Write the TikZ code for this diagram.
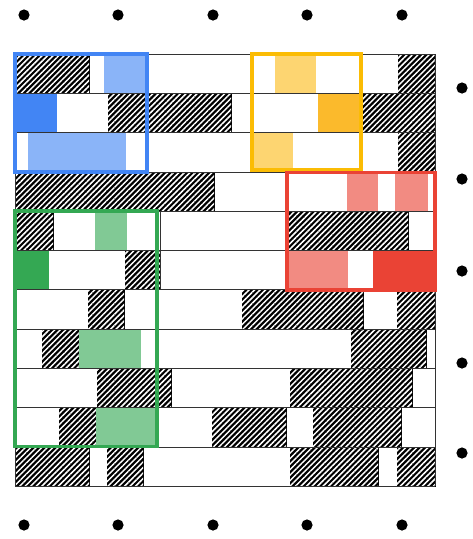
\documentclass[tikz,border=0pt]{standalone}
\usetikzlibrary{patterns.meta}
\definecolor{gblue}{HTML}{4285F4}
\definecolor{lblue}{HTML}{8AB4F8}
\definecolor{gyellow}{HTML}{FBBC04}
\definecolor{lyellow}{HTML}{FDD571}
\definecolor{dyellow}{HTML}{FBBA2C}
\definecolor{gred}{HTML}{EA4335}
\definecolor{lred}{HTML}{F28B82}
\definecolor{ggreen}{HTML}{34A853}
\definecolor{lgreen}{HTML}{81C995}
\definecolor{gridline}{HTML}{333333}
\newcommand{\blk}[4]{\path[#4] (#1,{54+39.3*#3}) rectangle (#2,{54+39.3*(#3+1)});}
\newcommand{\vsep}[2]{\draw[gridline,line width=0.7pt] (#1,{54+39.3*#2}) -- (#1,{54+39.3*(#2+1)});}
\begin{document}
\begin{tikzpicture}[x=1pt,y=-1pt,
  hatch/.style={fill=black, draw=black, line width=0.7pt,
    postaction={pattern={Lines[angle=45,distance=3.9pt,line width=1.5pt]}, pattern color=white}},
  dotmark/.style={fill=black},
  hl/.style={line width=3.2pt}]
\useasboundingbox (0,0) rectangle (473,539);
\fill[white] (0,0) rectangle (473,539);
% dots
\foreach \x in {24,118,213,307,402} {
  \fill[dotmark] (\x,15) circle (5.6);
  \fill[dotmark] (\x,525) circle (5.6);
}
\foreach \y in {88,179,271,363,453} {
  \fill[dotmark] (462,\y) circle (5.6);
}
% background rows
\fill[white] (15,54) rectangle (435,486.3);
% row 0
\blk{15}{89}{0}{hatch}
\blk{104}{147}{0}{fill=lblue}
\blk{275}{316}{0}{fill=lyellow}
\blk{398}{435}{0}{hatch}
% row 1
\blk{15}{57}{1}{fill=gblue}
\blk{108}{231}{1}{hatch}
\blk{318}{361}{1}{fill=dyellow}
\blk{361}{435}{1}{hatch}
% row 2
\blk{28}{126}{2}{fill=lblue}
\blk{252}{293}{2}{fill=lyellow}
\blk{398}{435}{2}{hatch}
% row 3
\blk{15}{92}{3}{hatch}
\blk{92}{214}{3}{hatch}
\blk{347}{378}{3}{fill=lred}
\blk{395}{428}{3}{fill=lred}
% row 4
\blk{15}{53}{4}{hatch}
\blk{95}{127}{4}{fill=lgreen}
\blk{288}{408}{4}{hatch}
% row 5
\blk{15}{49}{5}{fill=ggreen}
\blk{125}{160}{5}{hatch}
\blk{287}{348}{5}{fill=lred}
\blk{373}{435}{5}{fill=gred}
% row 6
\blk{88}{124}{6}{hatch}
\blk{242}{363}{6}{hatch}
\blk{397}{435}{6}{hatch}
% row 7
\blk{42}{79}{7}{hatch}
\blk{79}{141}{7}{fill=lgreen}
\blk{351}{426}{7}{hatch}
% row 8
\blk{97}{171}{8}{hatch}
\blk{290}{412}{8}{hatch}
% row 9
\blk{59}{96}{9}{hatch}
\blk{96}{157}{9}{fill=lgreen}
\blk{212}{286}{9}{hatch}
\blk{313}{401}{9}{hatch}
% row 10
\blk{15}{89}{10}{hatch}
\blk{107}{143}{10}{hatch}
\blk{290}{378}{10}{hatch}
\blk{397}{435}{10}{hatch}
% grid lines
\foreach \r in {0,...,11} {
  \draw[gridline,line width=0.8pt] (15,{54+39.3*\r}) -- (435,{54+39.3*\r});
}
\draw[gridline,line width=0.8pt] (15,54) -- (15,486.3);
\draw[gridline,line width=0.8pt] (435,54) -- (435,486.3);
\vsep{160}{4}
\vsep{160}{5}
% highlight boxes
\draw[hl,gblue] (15,54) rectangle (147,172);
\draw[hl,gyellow] (252,54) rectangle (361,170);
\draw[hl,gred] (287,172.5) rectangle (435,290);
\draw[hl,ggreen] (15,211) rectangle (157,446.5);
\end{tikzpicture}
\end{document}
